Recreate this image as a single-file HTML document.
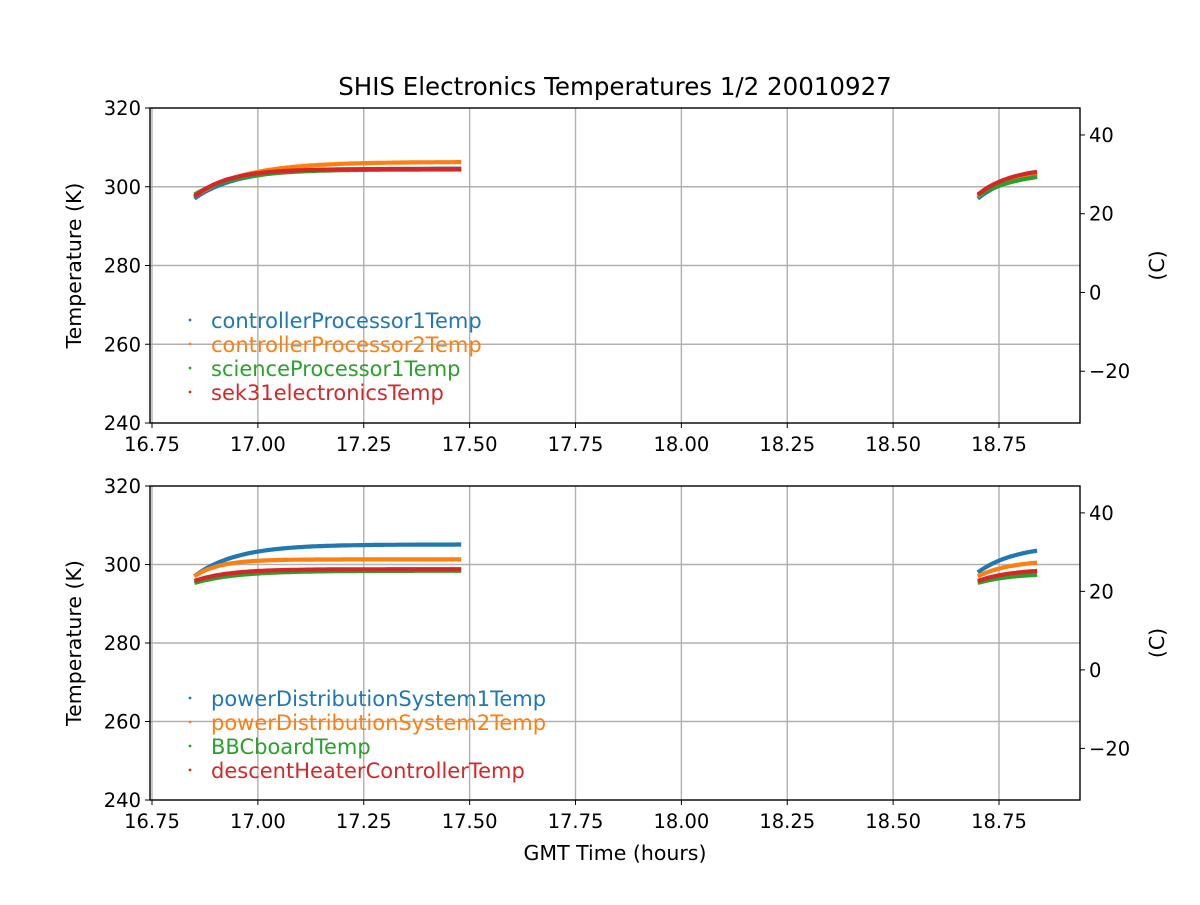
<!DOCTYPE html>
<html><head><meta charset="utf-8"><style>
body{margin:0;background:#fff}
svg{font-family:"DejaVu Sans","Liberation Sans",sans-serif}
</style></head><body>
<svg id="s" width="1200" height="900" xmlns="http://www.w3.org/2000/svg">
<rect width="1200" height="900" fill="#fff"/>
<g id="g"></g>
</svg>
<script>
const NS="http://www.w3.org/2000/svg";
const g=document.getElementById('g');
function el(t,a,txt){const e=document.createElementNS(NS,t);for(const k in a)e.setAttribute(k,a[k]);if(txt!==undefined)e.textContent=txt;g.appendChild(e);return e;}
const X=t=>152+(t-16.75)*423.5;
const cols=['#1f77b4','#ff7f0e','#2ca02c','#d62728'];
function panel(top,bot,legend,series){
  const Y=k=>top+(320-k)*(bot-top)/80;
  for(let i=0;i<9;i++){const x=X(16.75+i*0.25);el('line',{x1:x,x2:x,y1:top,y2:bot,stroke:'#b0b0b0','stroke-width':1.4});}
  for(const k of [260,280,300]){el('line',{x1:150,x2:1080,y1:Y(k),y2:Y(k),stroke:'#b0b0b0','stroke-width':1.4});}
  series.forEach((s,i)=>{
    for(const seg of s){
      let d='';const [t0,t1,T0,Tf,tau]=seg;
      for(let t=t0;t<=t1+1e-9;t+=0.005){const T=Tf-(Tf-T0)*Math.exp(-(t-t0)/tau);d+=(d?'L':'M')+X(t).toFixed(1)+','+Y(T).toFixed(1);}
      el('path',{d:d,fill:'none',stroke:cols[i],'stroke-width':4.2});
    }
  });
  el('rect',{x:150,y:top,width:930,height:bot-top,fill:'none',stroke:'#000','stroke-width':1.4});
  for(let i=0;i<9;i++){const x=X(16.75+i*0.25);el('line',{x1:x,x2:x,y1:bot,y2:bot+5,stroke:'#000'});
    el('text',{x:x,y:bot+28,'font-size':19.5,'text-anchor':'middle'},(16.75+i*0.25).toFixed(2));}
  for(const k of [240,260,280,300,320]){el('line',{x1:145,x2:150,y1:Y(k),y2:Y(k),stroke:'#000'});
    el('text',{x:141,y:Y(k)+7,'font-size':19.5,'text-anchor':'end'},k);}
  for(const c of [-20,0,20,40]){const y=Y(c+273.15);el('line',{x1:1080,x2:1085,y1:y,y2:y,stroke:'#000'});
    el('text',{x:1089,y:y+7,'font-size':19.5},c<0?'\u2212'+(-c):c);}
  el('text',{x:0,y:0,'font-size':20.5,'text-anchor':'middle',transform:`translate(81,${(top+bot)/2}) rotate(-90)`},'Temperature (K)');
  el('text',{x:0,y:0,'font-size':20.5,'text-anchor':'middle',transform:`translate(1164,${(top+bot)/2}) rotate(-90)`},'(C)');
  legend.forEach((n,i)=>{const y=top+213+i*24;el('circle',{cx:190,cy:y-1,r:1.4,fill:cols[i]});
    el('text',{x:211,y:y+7,'font-size':21,fill:cols[i]},n);});
}
panel(108,423,['controllerProcessor1Temp','controllerProcessor2Temp','scienceProcessor1Temp','sek31electronicsTemp'],[
 [[16.85,17.48,297,304.6,0.1],[18.70,18.84,297,304,0.08]],
 [[16.85,17.48,297.5,306.3,0.12],[18.70,18.84,297.5,304.5,0.08]],
 [[16.85,17.48,298,304.4,0.1],[18.70,18.84,297.8,304,0.1]],
 [[16.85,17.48,297.5,304.5,0.08],[18.70,18.84,298,305,0.08]]
]);
panel(486,800,['powerDistributionSystem1Temp','powerDistributionSystem2Temp','BBCboardTemp','descentHeaterControllerTemp'],[
 [[16.85,17.48,297,305.1,0.1],[18.70,18.84,298,305,0.09]],
 [[16.85,17.48,297,301.3,0.06],[18.70,18.84,297,301.2,0.08]],
 [[16.85,17.48,295.3,298.4,0.1],[18.70,18.84,295.3,297.8,0.08]],
 [[16.85,17.48,295.8,298.8,0.08],[18.70,18.84,295.8,298.9,0.08]]
]);
el('text',{x:615,y:95,'font-size':24.5,'text-anchor':'middle'},'SHIS Electronics Temperatures 1/2 20010927');
el('text',{x:615,y:860,'font-size':20.5,'text-anchor':'middle'},'GMT Time (hours)');
</script>
</body></html>
